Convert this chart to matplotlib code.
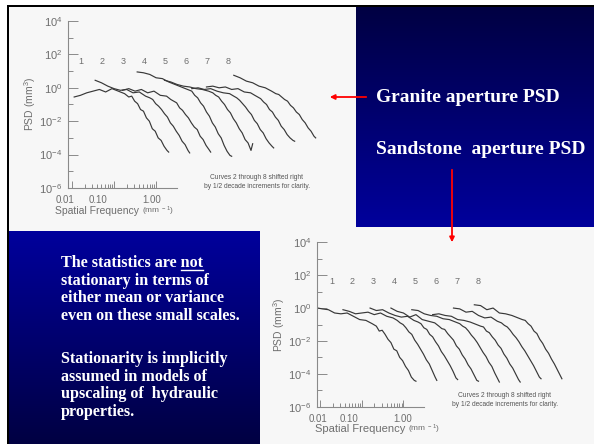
import matplotlib
matplotlib.use('Agg')
import matplotlib.pyplot as plt
import numpy as np
from matplotlib.colors import LinearSegmentedColormap
from matplotlib.patches import Rectangle
from matplotlib.ticker import FixedLocator, NullFormatter
from matplotlib.transforms import ScaledTranslation

plt.rcParams['font.family'] = ['Liberation Sans', 'DejaVu Sans']

W, H = 594, 444
nan = np.nan

# unshifted log10 spatial frequency (mm^-1)
log_freq = [-2.05, -1.95, -1.8, -1.65, -1.5, -1.35, -1.2, -1.05, -0.9, -0.75,
            -0.65, -0.58, -0.51, -0.44, -0.37, -0.30, -0.23, -0.16, -0.09,
            -0.02, 0.05, 0.12, 0.19, 0.26, 0.30]

# log10 PSD (mm^3), curves 1..8, granite
granite_psd = [
    [nan, -0.55, -0.45, -0.3, -0.2, -0.1, -0.25, -0.05, -0.2, -0.35, -0.55, -0.5, -0.8,
     -0.95, -1.3, -1.4, -1.8, -2.0, -2.45, -2.6, -3.0, -3.15, -3.5, -3.75, -3.85],
    [nan, 0.45, 0.3, 0.1, -0.05, -0.15, -0.1, -0.3, -0.25, -0.5, -0.6, -0.7, -0.95,
     -1.1, -1.3, -1.55, -1.75, -2.1, -2.3, -2.6, -2.85, -3.2, -3.4, -3.75, -3.9],
    [nan, nan, -0.15, -0.05, -0.2, -0.1, -0.3, -0.2, -0.45, -0.5, -0.7, -0.8, -0.9,
     -1.2, -1.35, -1.6, -1.8, -2.1, -2.35, -2.5, -2.9, -3.1, -3.45, -3.7, -3.85],
    [nan, 0.95, 0.9, 0.8, 0.6, 0.55, 0.35, 0.2, 0.05, -0.1, -0.2, -0.45, -0.6,
     -0.9, -1.1, -1.45, -1.7, -2.1, -2.35, -2.75, -3.0, -3.45, -3.8, -4.05, -4.1],
    [nan, nan, 0.45, 0.35, 0.2, 0.1, 0.05, -0.05, -0.1, -0.2, -0.3, -0.45, -0.55,
     -0.8, -1.0, -1.3, -1.5, -1.85, -2.1, -2.45, -2.7, -3.1, -3.3, -3.75, -3.35],
    [nan, nan, nan, -0.05, 0.0, -0.1, -0.05, -0.2, -0.3, -0.35, -0.5, -0.6, -0.75,
     -0.95, -1.15, -1.4, -1.6, -1.95, -2.15, -2.5, -2.7, -3.05, -3.3, -3.5, -3.6],
    [nan, nan, 0.05, 0.1, 0.0, 0.05, -0.1, -0.05, -0.25, -0.3, -0.45, -0.55, -0.65,
     -0.85, -1.0, -1.3, -1.45, -1.75, -1.95, -2.3, -2.5, -2.8, -3.0, -3.15, -3.2],
    [nan, nan, nan, 0.75, 0.6, 0.4, 0.3, 0.1, 0.0, -0.2, -0.35, -0.4, -0.55,
     -0.7, -0.8, -1.05, -1.2, -1.45, -1.6, -1.9, -2.1, -2.4, -2.6, -2.9, -3.0],
]

# log10 PSD (mm^3), curves 1..8, sandstone
sandstone_psd = [
    [0.0, -0.05, -0.1, -0.3, -0.35, -0.3, -0.5, -0.7, -0.75, -0.95, -1.1, -1.4, -1.35,
     -1.6, -1.9, -2.1, -2.5, -2.6, -3.0, -3.2, -3.55, -3.8, -4.2, -4.4, -4.45],
    [nan, -0.1, -0.2, -0.35, -0.3, -0.25, -0.4, -0.3, -0.5, -0.6, -0.75, -0.9, -1.0,
     -1.2, -1.45, -1.6, -1.95, -2.2, -2.5, -2.8, -3.15, -3.4, -3.8, -4.2, -4.4],
    [nan, nan, 0.0, -0.15, -0.1, -0.3, -0.45, -0.55, -0.5, -0.75, -0.85, -0.95, -1.2,
     -1.3, -1.6, -1.75, -2.05, -2.3, -2.65, -2.9, -3.2, -3.5, -3.85, -4.25, -4.35],
    [nan, nan, 0.0, -0.2, -0.3, -0.55, -0.4, -0.7, -0.8, -0.9, -1.1, -1.25, -1.3,
     -1.55, -1.75, -1.95, -2.3, -2.5, -2.85, -3.1, -3.45, -3.7, -4.05, -4.4, -4.45],
    [nan, nan, -0.1, -0.15, -0.35, -0.45, -0.5, -0.65, -0.7, -0.85, -0.95, -1.1, -1.2,
     -1.4, -1.65, -1.85, -2.1, -2.4, -2.7, -2.95, -3.3, -3.55, -3.95, -4.3, -4.5],
    [nan, nan, -0.4, -0.35, -0.45, -0.5, -0.7, -0.75, -0.85, -1.0, -1.1, -1.15, -1.4,
     -1.5, -1.75, -1.95, -2.25, -2.45, -2.8, -3.05, -3.4, -3.65, -4.0, -4.35, -4.5],
    [nan, nan, 0.0, -0.05, -0.25, -0.2, -0.45, -0.6, -0.55, -0.8, -0.9, -1.05, -1.15,
     -1.35, -1.6, -1.8, -2.05, -2.35, -2.6, -2.9, -3.2, -3.5, -3.85, -4.2, -4.3],
    [nan, nan, 0.2, 0.15, -0.1, 0.0, -0.3, -0.35, -0.45, -0.6, -0.7, -0.75, -0.95,
     -1.1, -1.4, -1.55, -1.9, -2.15, -2.5, -2.75, -3.1, -3.4, -3.75, -4.1, -4.3],
]

curve_ids = ['1', '2', '3', '4', '5', '6', '7', '8']
decade_shift = 0.5      # curves 2..8 shifted right by 1/2 decade each

x_ticks = [0.01, 0.1, 1.0]
x_tick_labels = ['0.01', '0.10', '1.00']
y_ticks = [1e-6, 1e-4, 1e-2, 1e0, 1e2, 1e4]
y_tick_labels = [r'$\mathregular{10^{-6}}$', r'$\mathregular{10^{-4}}$', r'$\mathregular{10^{-2}}$',
                 r'$\mathregular{10^{0}}$', r'$\mathregular{10^{2}}$', r'$\mathregular{10^{4}}$']
y_minor = [1e-5, 1e-3, 1e-1, 1e1, 1e3]
x_minor = [m * d for d in (0.01, 0.1) for m in range(2, 10)]

note = 'Curves 2 through 8 shifted right\nby 1/2 decade increments for clarity.'

para1 = ['The statistics are not', 'stationary in terms of',
         'either mean or variance', 'even on these small scales.']
para2 = ['Stationarity is implicitly', 'assumed in models of',
         'upscaling of  hydraulic', 'properties.']

line_col = '#8a8a8a'
text_col = '#6e6e6e'
curve_col = '#383838'

fig = plt.figure(figsize=(W / 100, H / 100), dpi=100, facecolor='white')

# slide background
bg = fig.add_axes([0, 0, 1, 1])
bg.axis('off')
bg.add_patch(Rectangle((9, 7), W - 9, H - 7, color='#f7f7f7', lw=0, zorder=0))
grad = np.linspace(0, 1, 256).reshape(-1, 1)
dark, bright = '#000042', '#00009c'
bg.imshow(grad, extent=(356, W, 227, 7), aspect='auto', origin='upper', zorder=1,
          cmap=LinearSegmentedColormap.from_list('tr', [dark, bright]))
bg.imshow(grad, extent=(9, 260, H, 231), aspect='auto', origin='upper', zorder=1,
          cmap=LinearSegmentedColormap.from_list('bl', [bright, dark]))
bg.add_patch(Rectangle((7, 5), 2, H - 5, color='black', lw=0, zorder=2))
bg.add_patch(Rectangle((7, 5), W - 7, 2, color='black', lw=0, zorder=2))
bg.set_xlim(0, W)
bg.set_ylim(H, 0)


def psd_panel(x0, x1, y_top, y_bot, px_dec, lf_left, curves, lab_lf0, lab_lp, xlab_shift):
    ax = fig.add_axes([x0 / W, 1 - y_bot / H, (x1 - x0) / W, (y_bot - y_top) / H])
    ax.patch.set_alpha(0)
    ax.set_xscale('log')
    ax.set_yscale('log')
    for i, lp in enumerate(curves):
        ax.plot(10 ** (np.array(log_freq) + decade_shift * i), 10 ** np.array(lp),
                color=curve_col, lw=0.85)
    for i, cid in enumerate(curve_ids):
        ax.text(10 ** (lab_lf0 + decade_shift * i), 10 ** lab_lp, cid, ha='center',
                va='center', fontsize=6.5, color=text_col)
    ax.set_xlim(10 ** lf_left, 10 ** (lf_left + (x1 - x0) / px_dec))
    ax.set_ylim(1e-6, 1e4)
    ax.yaxis.set_major_locator(FixedLocator(y_ticks))
    ax.yaxis.set_minor_locator(FixedLocator(y_minor))
    ax.set_yticklabels(y_tick_labels)
    ax.xaxis.set_major_locator(FixedLocator(x_ticks))
    ax.xaxis.set_minor_locator(FixedLocator(x_minor))
    ax.set_xticklabels(x_tick_labels)
    ax.xaxis.set_minor_formatter(NullFormatter())
    ax.yaxis.set_minor_formatter(NullFormatter())
    for s in ['top', 'right']:
        ax.spines[s].set_visible(False)
    for s in ['left', 'bottom']:
        ax.spines[s].set_color(line_col)
        ax.spines[s].set_linewidth(0.8)
    ax.spines['bottom'].set_bounds(10 ** lf_left, 10 ** 0.5)
    ax.tick_params(which='both', direction='in', color=line_col, labelcolor=text_col, width=0.7)
    ax.tick_params(axis='y', which='major', length=7, labelsize=8, pad=4)
    ax.tick_params(axis='y', which='minor', length=3.5)
    ax.tick_params(axis='x', which='major', length=5, labelsize=7, pad=5)
    ax.tick_params(axis='x', which='minor', length=3)
    for lbl, dx in zip(ax.get_xticklabels(), xlab_shift):
        lbl.set_transform(lbl.get_transform() + ScaledTranslation(dx / 100, 0, fig.dpi_scale_trans))
    return ax


psd_panel(68, 350, 21, 188, 42, -2.097, granite_psd, -1.78, 1.6, [-7, -16, -4])
psd_panel(316.7, 590, 242.3, 406.7, 41.7, -2.08, sandstone_psd, -1.72, 1.64, [-2, -13, -1])

# axis titles of the scanned plots
for (yx, yy, xx, xy, nx, ny, fs) in [(30, 104, 55, 211, 257, 182, 7.5),
                                     (279, 325, 315, 429, 505, 400, 8)]:
    bg.text(yx, yy, r'PSD $\mathregular{(mm^3)}$', rotation=90, ha='center', va='center',
            fontsize=7.5, color=text_col)
    t = bg.text(xx, xy, 'Spatial Frequency ', ha='left', va='center', fontsize=fs, color=text_col)
    bg.annotate(r'$\mathregular{(mm^{\ -1})}$', xy=(1, 0.5), xycoords=t, ha='left', va='center',
                fontsize=6, color=text_col)
    bg.text(nx, ny, note, ha='center', va='center', fontsize=4.8, color='#555555',
            linespacing=1.35)

# slide text
serif = dict(family='Liberation Serif', weight='bold', color='white')
bg.text(376, 97, 'Granite aperture PSD', ha='left', va='center', fontsize=14, zorder=3, **serif)
bg.text(376, 149, 'Sandstone  aperture PSD', ha='left', va='center', fontsize=14, zorder=3, **serif)
bg.annotate('', xy=(327, 97), xytext=(369, 97), zorder=3,
            arrowprops=dict(arrowstyle='-|>', color='#ff0000', lw=1.3, mutation_scale=7))
bg.annotate('', xy=(452, 245), xytext=(452, 167), zorder=3,
            arrowprops=dict(arrowstyle='-|>', color='#ff0000', lw=1.3, mutation_scale=7))

line_y = [263, 280.5, 298, 316, 359, 376.5, 394, 412]
texts = []
for s, y in zip(para1 + para2, line_y):
    texts.append(bg.text(61, y, s, ha='left', va='center', fontsize=11.6, zorder=3, **serif))

# underline "not"
r = fig.canvas.get_renderer()
bb_line = texts[0].get_window_extent(r)
probe = bg.text(0, 0, 'not', fontsize=11.6, **serif)
w_not = probe.get_window_extent(r).width
probe.remove()
bg.plot([bb_line.x1 - w_not, bb_line.x1], [270, 270], color='white', lw=1.0, zorder=3)

fig.savefig('out.png', dpi=100, facecolor=fig.get_facecolor())
